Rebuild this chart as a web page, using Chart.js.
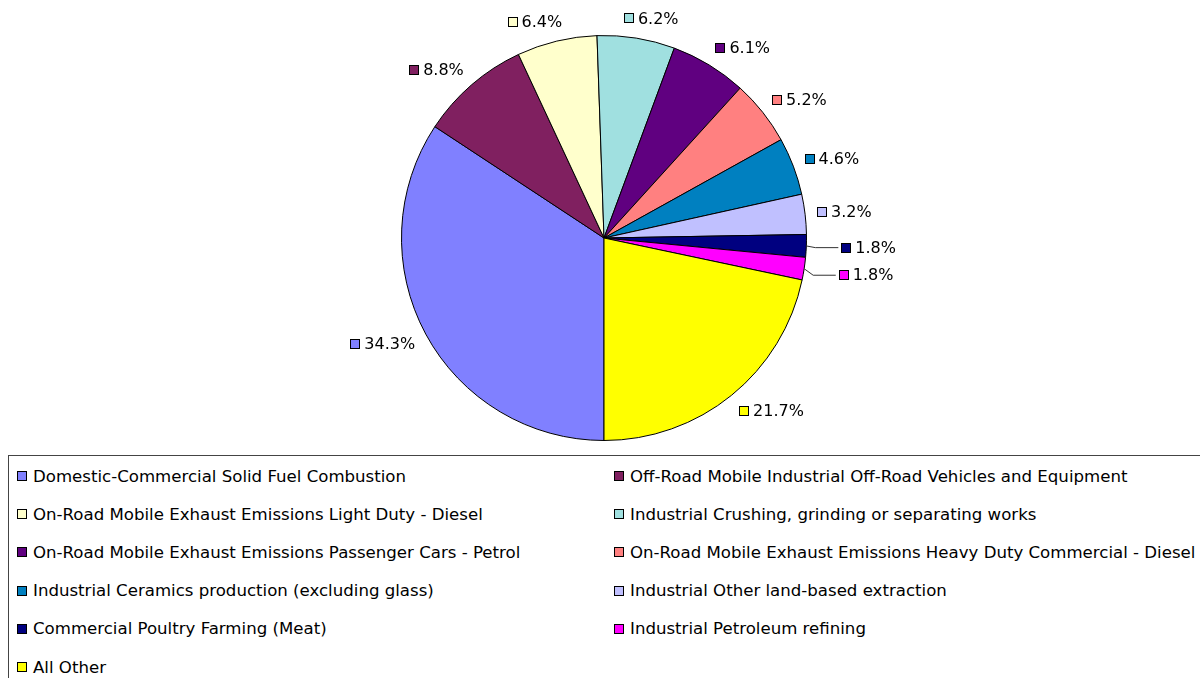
<!DOCTYPE html>
<html>
<head>
<meta charset="utf-8">
<script src="https://cdn.jsdelivr.net/npm/chart.js@4.4.1/dist/chart.umd.min.js"></script>
<style>
  body { margin: 0; background: #fff; font-family: "DejaVu Sans", Verdana, sans-serif; }
  #wrap { position: relative; width: 1200px; height: 678px; overflow: hidden; }
  #pie { position: absolute; left: 0; top: 0; }
  #legend { position: absolute; left: 8px; top: 455px; width: 1250px; height: 260px;
            border: 1px solid #444; box-sizing: border-box; }
  .item { position: absolute; display: flex; align-items: center; height: 20px;
          font-size: 16.6px; color: #000; white-space: nowrap; }
  .sw { width: 8px; height: 8px; border: 1px solid #000; margin-right: 6px; }
</style>
</head>
<body>
<div id="wrap">
  <canvas id="pie" width="1200" height="455"></canvas>
  <div id="legend"></div>
</div>
<script>
const categories = [
  "Domestic-Commercial Solid Fuel Combustion",
  "Off-Road Mobile Industrial Off-Road Vehicles and Equipment",
  "On-Road Mobile Exhaust Emissions Light Duty - Diesel",
  "Industrial Crushing, grinding or separating works",
  "On-Road Mobile Exhaust Emissions Passenger Cars - Petrol",
  "On-Road Mobile Exhaust Emissions Heavy Duty Commercial - Diesel",
  "Industrial Ceramics production (excluding glass)",
  "Industrial Other land-based extraction",
  "Commercial Poultry Farming (Meat)",
  "Industrial Petroleum refining",
  "All Other"
];
const shares = [34.3, 8.8, 6.4, 6.2, 6.1, 5.2, 4.6, 3.2, 1.8, 1.8, 21.7];
const colors = ["#8080ff", "#802060", "#ffffcc", "#a0e0e0", "#600080", "#ff8080",
                "#0080c0", "#c0c0ff", "#000080", "#ff00ff", "#ffff00"];

// percentage labels with a small colour box, leader lines for thin slices
const pctLabels = {
  id: 'pctLabels',
  afterDatasetsDraw(chart) {
    const ctx = chart.ctx;
    const meta = chart.getDatasetMeta(0);
    const total = shares.reduce((a, b) => a + b, 0);
    ctx.save();
    ctx.font = '16px "DejaVu Sans"';
    ctx.textBaseline = 'middle';
    meta.data.forEach((arc, i) => {
      const p = arc.getProps(['x', 'y', 'startAngle', 'endAngle', 'outerRadius'], true);
      const a = (p.startAngle + p.endAngle) / 2;
      const c = Math.cos(a), s = Math.sin(a);
      const pct = shares[i] / total * 100;
      const txt = pct.toFixed(1) + '%';
      const w = 10 + 4 + ctx.measureText(txt).width, h = 16;
      const leader = pct < 2.5;
      const r = p.outerRadius + (leader ? 35 : 12);
      const cx = p.x + r * c + w / 2 * Math.sign(c) * Math.min(1, Math.abs(c) * 3);
      const cy = p.y + r * s + h / 2 * s;
      const left = cx - w / 2;
      if (leader) {
        const ex = p.x + p.outerRadius * c, ey = p.y + p.outerRadius * s;
        ctx.strokeStyle = '#333';
        ctx.lineWidth = 1;
        ctx.beginPath();
        ctx.moveTo(ex, ey);
        ctx.lineTo(ex + 9, cy);
        ctx.lineTo(left - 3, cy);
        ctx.stroke();
      }
      ctx.fillStyle = colors[i];
      ctx.fillRect(Math.round(left) + 0.5, Math.round(cy - 5) + 0.5, 9, 9);
      ctx.strokeStyle = '#000';
      ctx.strokeRect(Math.round(left) + 0.5, Math.round(cy - 5) + 0.5, 9, 9);
      ctx.fillStyle = '#000';
      ctx.textAlign = 'left';
      ctx.fillText(txt, left + 14, cy + 1);
    });
    ctx.restore();
  }
};

new Chart(document.getElementById('pie'), {
  type: 'pie',
  data: {
    labels: categories,
    datasets: [{
      data: shares,
      backgroundColor: colors,
      borderColor: '#000',
      borderWidth: 1
    }]
  },
  options: {
    responsive: false,
    animation: false,
    rotation: 180,
    layout: { padding: { left: 398, right: 390, top: 35, bottom: 14 } },
    plugins: { legend: { display: false }, tooltip: { enabled: false } }
  },
  plugins: [pctLabels]
});

// two-column legend, row-major
const legend = document.getElementById('legend');
categories.forEach((name, i) => {
  const el = document.createElement('div');
  el.className = 'item';
  el.style.left = (i % 2 ? 605 : 8) + 'px';
  el.style.top = (10 + Math.floor(i / 2) * 38.2) + 'px';
  const sw = document.createElement('span');
  sw.className = 'sw';
  sw.style.background = colors[i];
  el.appendChild(sw);
  el.appendChild(document.createTextNode(name));
  legend.appendChild(el);
});
</script>
</body>
</html>
